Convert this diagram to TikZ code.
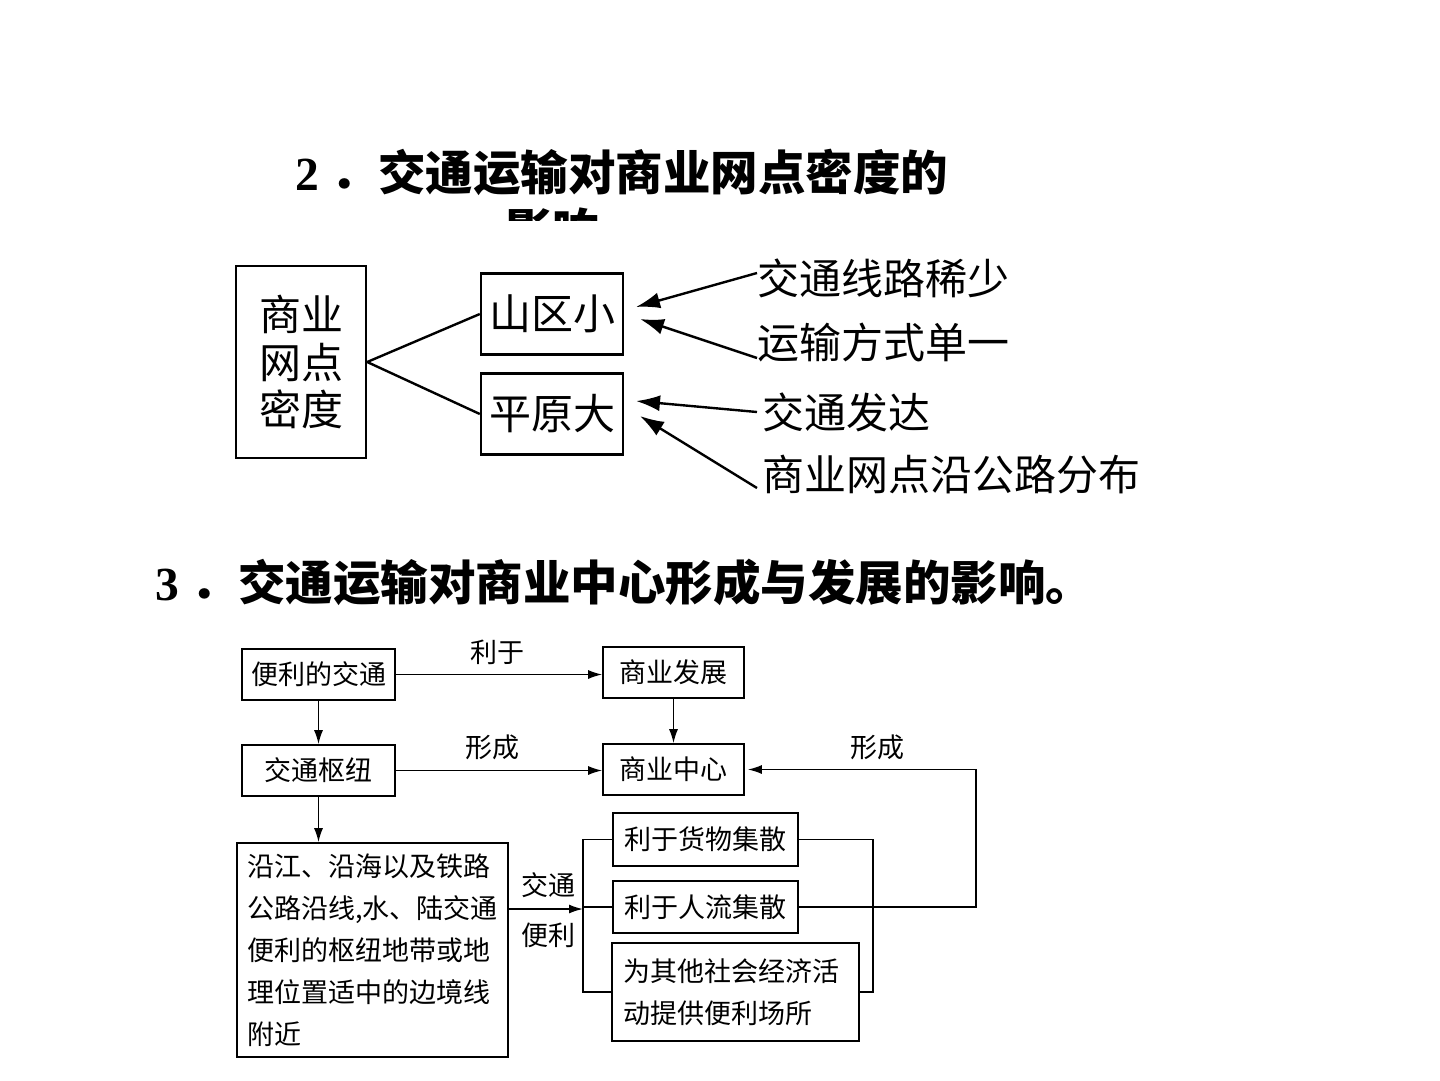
\documentclass[tikz,border=0pt]{standalone}
\usepackage{fontspec}
\setmainfont{Noto Sans CJK SC}
\newfontfamily\numfont{Liberation Serif}
\usepackage{tikz}
\usetikzlibrary{positioning}
\usetikzlibrary{arrows.meta}
\tikzset{link/.style = {-{Latex[length=14pt,width=9pt]}},
         biglink/.style = {-{Latex[length=24pt,width=16pt]}}}

\begin{document}
\begin{tikzpicture}[x=1pt,y=-1pt,
    big box/.style={draw,line width=2.4pt,inner sep=0pt,align=center,font=\fontsize{42}{47.5}\selectfont},
    big text/.style={inner sep=0pt,anchor=west,font=\fontsize{42}{48}\selectfont},
    small box/.style={draw,line width=1.6pt,inner sep=0pt,font=\fontsize{27}{42}\selectfont},
    tag/.style={inner sep=0pt,font=\fontsize{27}{32}\selectfont},
    head/.style={inner sep=0pt,anchor=west,font=\fontsize{47.5}{56}\selectfont\bfseries}]
    \useasboundingbox[fill=white] (0,0) rectangle (1440,1080);

    % part 2
    \node[head] (h2) at (295,172) {{\numfont\bfseries 2\ }．交通运输对商业网点密度的};
    \begin{scope}
        \clip (0,0) rectangle (1440,220);
        \node[head] (h2b) at (505,230) {影响};
    \end{scope}

    \node[big box,minimum width=130,minimum height=192] (dens) at (301,362) {商业\\网点\\密度};
    \node[big box,minimum width=142,minimum height=81] (mount) at (552,314) {山区小};
    \node[big box,minimum width=142,minimum height=81] (plain) at (552,414) {平原大};
    \node[big text] (r1) at (757,278) {交通线路稀少};
    \node[big text] (r2) at (757,342) {运输方式单一};
    \node[big text] (r3) at (762,412) {交通发达};
    \node[big text] (r4) at (762,475) {商业网点沿公路分布};
    \coordinate (m1) at (636,307);
    \coordinate (m2) at (640,319);
    \coordinate (p1) at (636,401);
    \coordinate (p2) at (640,416);

    \path[line width=2.4pt]
        (dens.east) edge (mount.west)
        (dens.east) edge (plain.west);
    \path[biglink,line width=2.4pt]
        ([yshift=5pt]r1.west) edge (m1)
        ([yshift=-16pt]r2.west) edge (m2)
        ([xshift=-5pt]r3.west) edge (p1)
        ([xshift=-5pt,yshift=-13pt]r4.west) edge (p2);

    % part 3
    \node[head] (h3) at (155,582) {{\numfont\bfseries 3\ }．交通运输对商业中心形成与发展的影响。};

    \node[small box,minimum width=153,minimum height=51] (conv) at (318.5,674.5) {便利的交通};
    \node[small box,minimum width=141,minimum height=51] (dev) at (673.5,672.5) {商业发展};
    \node[small box,minimum width=153,minimum height=51] (hub) at (318.5,770.5) {交通枢纽};
    \node[small box,minimum width=141,minimum height=51] (centre) at (673.5,769.5) {商业中心};
    \node[small box,minimum width=271,minimum height=214,inner xsep=10pt,text width=251pt,align=left] (loc) at (372.5,950)
        {沿江、沿海以及铁路\\公路沿线,水、陆交通\\便利的枢纽地带或地\\理位置适中的边境线\\附近};
    \node[small box,minimum width=185,minimum height=53] (goods) at (705.5,839.5) {利于货物集散};
    \node[small box,minimum width=185,minimum height=52] (people) at (705.5,907) {利于人流集散};
    \node[small box,minimum width=247,minimum height=98,inner xsep=11pt,text width=225pt,align=left] (other) at (735.5,992)
        {为其他社会经济活\\动提供便利场所};

    \node[tag] (l1) at (497,652) {利于};
    \node[tag] (l2) at (492,747) {形成};
    \node[tag] (l3) at (877,747) {形成};
    \node[tag] (l4) at (548,885) {交通};
    \node[tag] (l5) at (548,935) {便利};

    \coordinate (lb) at (583,909);
    \coordinate (rb) at (873,909);
    \coordinate (fr) at (976,840);

    \path[link,line width=1.6pt]
        (conv.east) edge (conv.east -| dev.west)
        (hub.east) edge (hub.east -| centre.west)
        (conv.south) edge (hub.north)
        (dev.south) edge (centre.north)
        (hub.south) edge (hub.south |- loc.north)
        (loc.east |- lb) edge (lb);
    \draw[line width=1.6pt] (goods.west) -| (lb) |- (other.west);
    \draw[line width=1.6pt] (people.west) -- (people.west -| lb);
    \draw[line width=1.6pt] (goods.east) -| (rb) |- (other.east);
    \draw[link,line width=1.6pt] (people.east) -| (fr) |- ([xshift=3pt]centre.east);
\end{tikzpicture}
\end{document}
